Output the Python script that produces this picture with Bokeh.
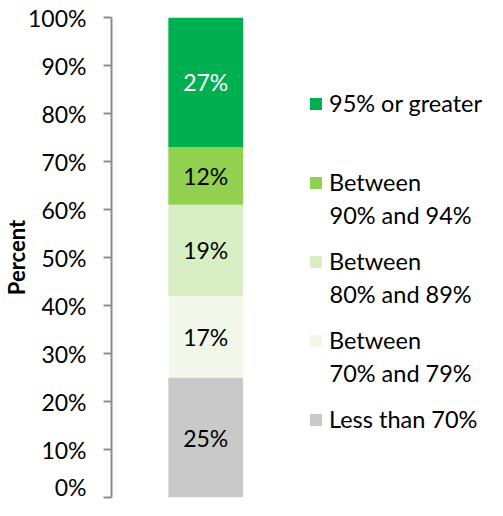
from bokeh.plotting import figure
from bokeh.models import (Range1d, FixedTicker, CustomJSTickFormatter, Legend,
                          LegendItem, ColumnDataSource, Label)
from bokeh.core.properties import value
from bokeh.embed import file_html
from bokeh.resources import INLINE

# ---- data ----
categories = ["Less than 70%", "Between\n70% and 79%", "Between\n80% and 89%",
              "Between\n90% and 94%", "95% or greater"]
values = [25, 17, 19, 12, 27]
colors = ["#C9C9C9", "#F1F8E9", "#D8EEC3", "#92D050", "#00B050"]
label_colors = ["black", "black", "black", "black", "white"]
y_ticks = [0, 10, 20, 30, 40, 50, 60, 70, 80, 90, 100]

FONT = "Lato"

p = figure(width=487, height=500, output_backend="svg", toolbar_location=None,
           x_range=Range1d(-1.26, 3.767), y_range=Range1d(0, 100),
           x_axis_location=None, min_border_left=110, min_border_right=0,
           min_border_top=17, min_border_bottom=3)
p.outline_line_color = None
p.grid.visible = False
p.background_fill_color = "white"
p.border_fill_color = "white"

bottoms, tops = [], []
acc = 0
for v in values:
    bottoms.append(acc)
    acc += v
    tops.append(acc)

src = ColumnDataSource(dict(x=[0] * len(values), bottom=bottoms, top=tops,
                            color=colors,
                            mid=[(b + t) / 2 for b, t in zip(bottoms, tops)],
                            lab=[f"{v}%" for v in values], lc=label_colors))

renderers = []
for i in range(len(values)):
    r = p.vbar(x=[0], bottom=[bottoms[i]], top=[tops[i]], width=1,
               fill_color=colors[i], line_color=None)
    renderers.append(r)

p.text(x="x", y="mid", text="lab", source=src, text_color="lc",
       text_align="center", text_baseline="middle", text_font=value(FONT),
       text_font_size="23px")

# y axis
ax = p.yaxis[0]
ax.ticker = FixedTicker(ticks=y_ticks)
ax.formatter = CustomJSTickFormatter(code="return tick + '%';")
ax.axis_line_color = "#8C8C8C"
ax.axis_line_width = 2
ax.major_tick_line_color = "#8C8C8C"
ax.major_tick_line_width = 2
ax.major_tick_out = 8
ax.major_tick_in = 0
ax.minor_tick_out = 0
ax.minor_tick_in = 0
ax.major_label_standoff = 17
ax.major_label_text_font = FONT
ax.major_label_text_font_size = "23px"
ax.major_label_text_color = "black"
ax.axis_label = "Percent"
ax.axis_label_text_font = FONT
ax.axis_label_text_font_style = "bold"
ax.axis_label_text_font_size = "22px"
ax.axis_label_text_color = "black"
ax.axis_label_standoff = -5

# legend: glyph + first line of each label; second lines as labels
first_lines = [c.split("\n")[0] for c in categories]
second_lines = [c.split("\n")[1] if "\n" in c else "" for c in categories]

items = [LegendItem(label=first_lines[i], renderers=[renderers[i]])
         for i in reversed(range(len(values)))]
legend = Legend(items=items, location=(197, 63), orientation="vertical",
                border_line_color=None, background_fill_alpha=0,
                padding=0, margin=0, spacing=49, label_height=30,
                glyph_width=15, glyph_height=15, label_standoff=6,
                label_text_font=FONT, label_text_font_size="23.5px",
                label_text_color="black", label_text_baseline="middle")
p.add_layout(legend, "center")

item_pitch = 79
first_center_from_bottom = 78  # last item's centre above frame bottom
for k, i in enumerate(reversed(range(len(values)))):
    if second_lines[i]:
        yc = first_center_from_bottom + (len(values) - 1 - k) * item_pitch - 32
        p.add_layout(Label(x=218, y=yc, x_units="screen", y_units="screen",
                           text=second_lines[i], text_font=FONT,
                           text_font_size="23.5px", text_color="black",
                           text_baseline="middle", text_align="left"))

open("out.html", "w").write(file_html(p, INLINE))
